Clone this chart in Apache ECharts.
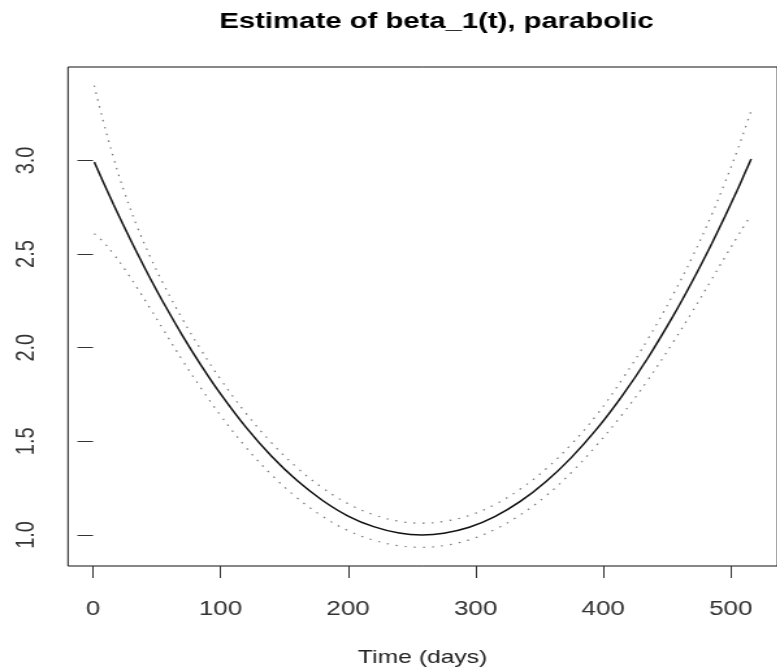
<!DOCTYPE html>
<html>
<head>
<meta charset="utf-8">
<script src="https://cdn.jsdelivr.net/npm/echarts@6/dist/echarts.min.js"></script>
<style>
html,body{margin:0;padding:0;background:#fff;overflow:hidden;}
#wrap{width:777px;height:672px;overflow:hidden;}
#chart{height:672px;transform-origin:0 0;}
</style>
</head>
<body>
<div id="wrap"><div id="chart"></div></div>
<script>
// Time points (days)
const days = [1, 8, 16, 25, 35, 45, 55, 70, 85, 100, 120, 140, 160, 180, 200, 220, 240, 258, 275, 295, 315, 335, 355, 375, 395, 415, 435, 455, 470, 485, 495, 505, 511, 516];
// Estimate of beta_1(t) (solid line)
const estimate = [2.992, 2.885, 2.766, 2.638, 2.500, 2.368, 2.243, 2.066, 1.903, 1.753, 1.574, 1.420, 1.290, 1.184, 1.101, 1.044, 1.010, 1.000, 1.009, 1.041, 1.098, 1.179, 1.284, 1.413, 1.566, 1.744, 1.945, 2.171, 2.356, 2.554, 2.694, 2.840, 2.931, 3.008];
// Upper band (dotted)
const upper = [3.400, 3.210, 3.016, 2.823, 2.640, 2.483, 2.343, 2.154, 1.985, 1.831, 1.649, 1.492, 1.359, 1.251, 1.167, 1.108, 1.073, 1.063, 1.072, 1.104, 1.162, 1.245, 1.352, 1.484, 1.642, 1.832, 2.045, 2.286, 2.486, 2.709, 2.874, 3.050, 3.166, 3.264];
// Lower band (dotted)
const lower = [2.609, 2.565, 2.501, 2.418, 2.315, 2.208, 2.098, 1.934, 1.781, 1.638, 1.467, 1.321, 1.198, 1.099, 1.023, 0.972, 0.942, 0.934, 0.943, 0.974, 1.029, 1.107, 1.208, 1.333, 1.480, 1.644, 1.827, 2.031, 2.194, 2.364, 2.479, 2.590, 2.656, 2.708];
// Tick labels
const xTicks = [0, 100, 200, 300, 400, 500];
const yTicks = [1.0, 1.5, 2.0, 2.5, 3.0];

// The reference picture is horizontally stretched; reproduce that stretch.
const SX = 1.3;
const W = 777, H = 672;
const el = document.getElementById('chart');
el.style.width = (W / SX) + 'px';
el.style.transform = 'scaleX(' + SX + ')';

const pairs = (ys) => days.map((d, i) => [d, ys[i]]);
const px = (v) => v / SX; // convert target horizontal pixels to internal pixels

const chart = echarts.init(el, null, {renderer: 'canvas'});
const fontFam = '"Liberation Sans", Arial, Helvetica, sans-serif';

chart.setOption({
  animation: false,
  backgroundColor: '#ffffff',
  title: {
    text: 'Estimate of beta_1(t), parabolic',
    left: px(430),
    top: 5,
    textAlign: 'center',
    textStyle: {fontFamily: fontFam, fontWeight: 'bold', fontSize: 22.5, color: '#000'}
  },
  grid: {
    left: px(68), top: 67, width: px(719), height: 505,
    show: true, borderColor: '#111', borderWidth: 1, backgroundColor: 'transparent'
  },
  xAxis: {
    type: 'value',
    min: -19.6, max: 536.6,
    name: 'Time (days)',
    nameLocation: 'middle',
    nameGap: 82,
    nameTextStyle: {fontFamily: fontFam, fontSize: 19, color: '#222'},
    axisLine: {show: false},
    splitLine: {show: false},
    axisTick: {show: true, customValues: xTicks, length: 12, lineStyle: {color: '#333', width: 1}},
    axisLabel: {show: true, customValues: xTicks, fontFamily: fontFam, fontSize: 20, color: '#333', margin: 33}
  },
  yAxis: {
    type: 'value',
    min: 0.834, max: 3.499,
    axisLine: {show: false},
    splitLine: {show: false},
    axisTick: {show: true, customValues: yTicks, length: 12, lineStyle: {color: '#333', width: 1}},
    axisLabel: {show: true, customValues: yTicks, rotate: 90, fontFamily: fontFam, fontSize: 20, color: '#333', margin: 22,
      formatter: (v) => Number(v).toFixed(1)}
  },
  series: [
    {
      name: 'estimate', type: 'line', data: pairs(estimate), smooth: 0.4, showSymbol: false, symbol: 'none',
      lineStyle: {color: '#111', width: 1.5}
    },
    {
      name: 'upper', type: 'line', data: pairs(upper), smooth: 0.4, showSymbol: false, symbol: 'none',
      lineStyle: {color: '#777', width: 1.2, type: [1.5, 5.5]}
    },
    {
      name: 'lower', type: 'line', data: pairs(lower), smooth: 0.4, showSymbol: false, symbol: 'none',
      lineStyle: {color: '#777', width: 1.2, type: [1.5, 5.5]}
    }
  ]
});
</script>
</body>
</html>
